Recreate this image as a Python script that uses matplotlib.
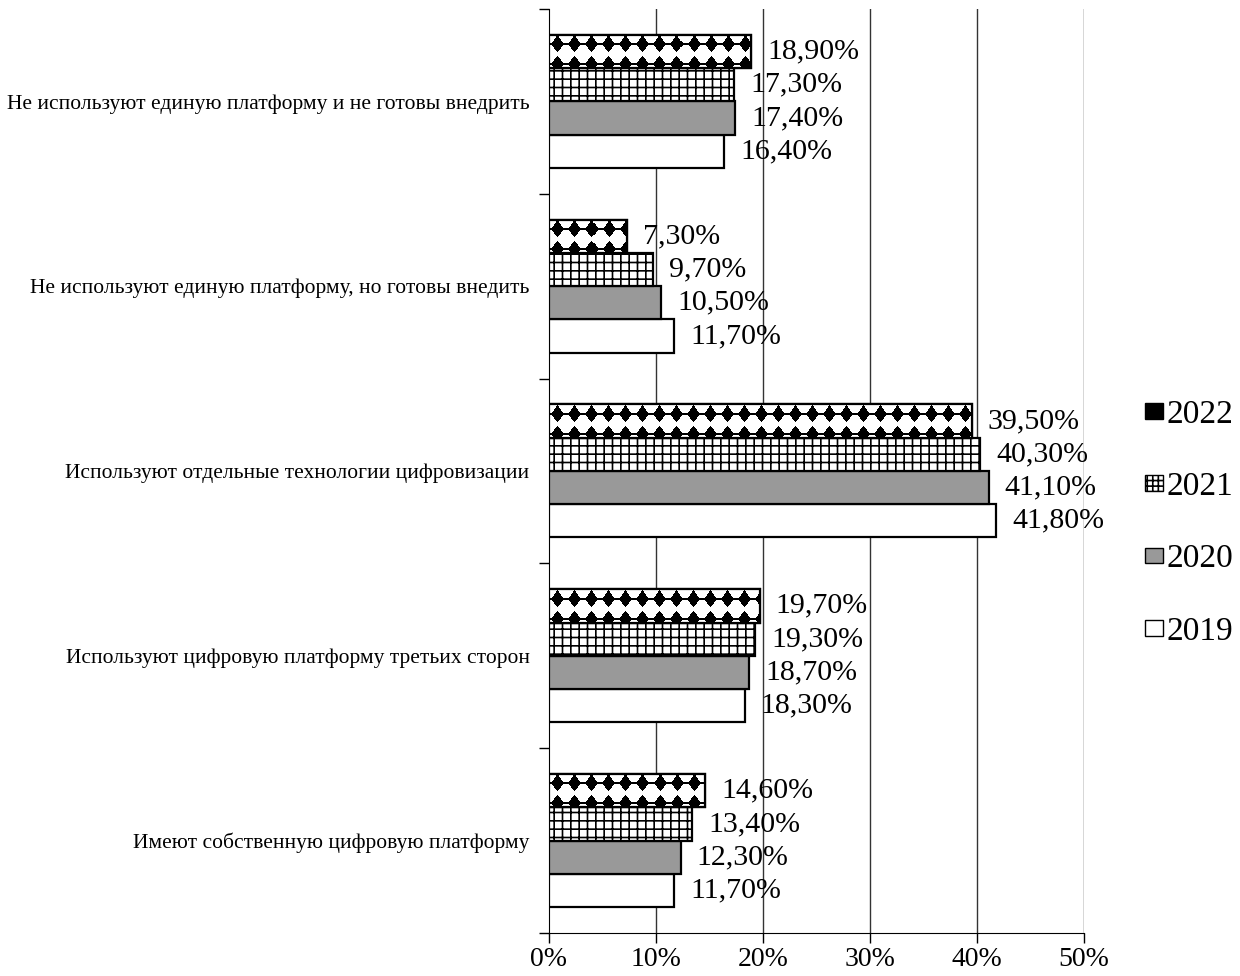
import numpy as np
import matplotlib.pyplot as plt
from matplotlib.patches import Patch

plt.rcParams['font.family'] = ['Liberation Serif', 'DejaVu Serif']
plt.rcParams['hatch.linewidth'] = 1.2

# categories from bottom to top
categories = [
    'Имеют собственную цифровую платформу',
    'Используют цифровую платформу третьих сторон',
    'Используют отдельные технологии цифровизации',
    'Не используют единую платформу, но готовы внедить',
    'Не используют единую платформу и не готовы внедрить',
]
years = ['2019', '2020', '2021', '2022']
v2019 = [11.7, 18.3, 41.8, 11.7, 16.4]
v2020 = [12.3, 18.7, 41.1, 10.5, 17.4]
v2021 = [13.4, 19.3, 40.3, 9.7, 17.3]
v2022 = [14.6, 19.7, 39.5, 7.3, 18.9]
x_ticks = [0, 10, 20, 30, 40, 50]

fig = plt.figure(figsize=(12.4, 9.76), dpi=100)
ax = fig.add_axes([0.4427, 0.0441, 0.4315, 0.9467])

h = 0.18
y = np.arange(len(categories))
styles = [
    dict(facecolor='white'),
    dict(facecolor='#999999'),
    dict(facecolor='white', hatch='++'),
    dict(facecolor='white'),
]
series = [v2019, v2020, v2021, v2022]

# diamond tile for the 2022 pattern (17 x 20 px)
PX, PY = 17, 20
yy, xx = np.mgrid[0:PY, 0:PX]
xx = xx - (PX - 1) / 2
yy = yy - (PY - 1) / 2
mark = (np.abs(xx) / 7.0 + np.abs(yy) / 8.0 <= 1) | ((np.abs(yy) <= 0.5) & (np.abs(xx) <= 8))
tile = np.where(mark, 0.0, 1.0)
sx = 50 / 535 * PX   # tile width in data units
sy = 5 / 924 * PY    # tile height in data units

for k, (vals, st) in enumerate(zip(series, styles)):
    bars = ax.barh(y + (k - 1.5) * h, vals, height=h, edgecolor='black',
                   linewidth=1.6, zorder=3, **st)
    for b, v in zip(bars, vals):
        if k == 3:
            n = int(np.ceil(v / sx)) + 1
            img = np.tile(tile, (2, n))
            top = b.get_y() + h + 0.003
            im = ax.imshow(img, cmap='gray', vmin=0, vmax=1, interpolation='nearest',
                           aspect='auto', zorder=3.5,
                           extent=(0, n * sx, top - 2 * sy, top))
            im.set_clip_path(b)
            ax.add_patch(plt.Rectangle((0, b.get_y()), v, h, fill=False,
                                       edgecolor='black', linewidth=1.6, zorder=4))
        ax.text(v + 1.5, b.get_y() + h / 2, f'{v:.2f}'.replace('.', ',') + '%',
                ha='left', va='center', fontsize=21.5, zorder=5)

ax.set_xlim(0, 50)
ax.set_ylim(-0.5, 4.5)
ax.set_xticks(x_ticks)
ax.set_xticklabels([f'{t}%' for t in x_ticks], fontsize=20)
ax.tick_params(axis='x', direction='out', length=7, width=1, pad=3)
ax.set_yticks(y)
ax.set_yticklabels(categories, fontsize=15.5)
ax.tick_params(axis='y', which='major', length=0, pad=14)
ax.set_yticks(np.arange(-0.5, 5.0, 1.0), minor=True)
ax.tick_params(axis='y', which='minor', direction='out', length=7, width=1)
for t in x_ticks[1:]:
    ax.axvline(t, color='#333333', linewidth=1, zorder=1)
ax.spines['top'].set_visible(False)
ax.spines['right'].set_visible(False)

handles = [
    Patch(facecolor='black', edgecolor='black', hatch='xx', label='2022'),
    Patch(facecolor='white', edgecolor='black', hatch='+++', label='2021'),
    Patch(facecolor='#999999', edgecolor='black', label='2020'),
    Patch(facecolor='white', edgecolor='black', label='2019'),
]
fig.legend(handles=handles, loc='center left', bbox_to_anchor=(0.91, 0.464),
           frameon=False, fontsize=24, handlelength=0.55, handleheight=0.35,
           handletextpad=0.08, labelspacing=1.25, borderpad=0)

fig.savefig('out.png', dpi=100)
